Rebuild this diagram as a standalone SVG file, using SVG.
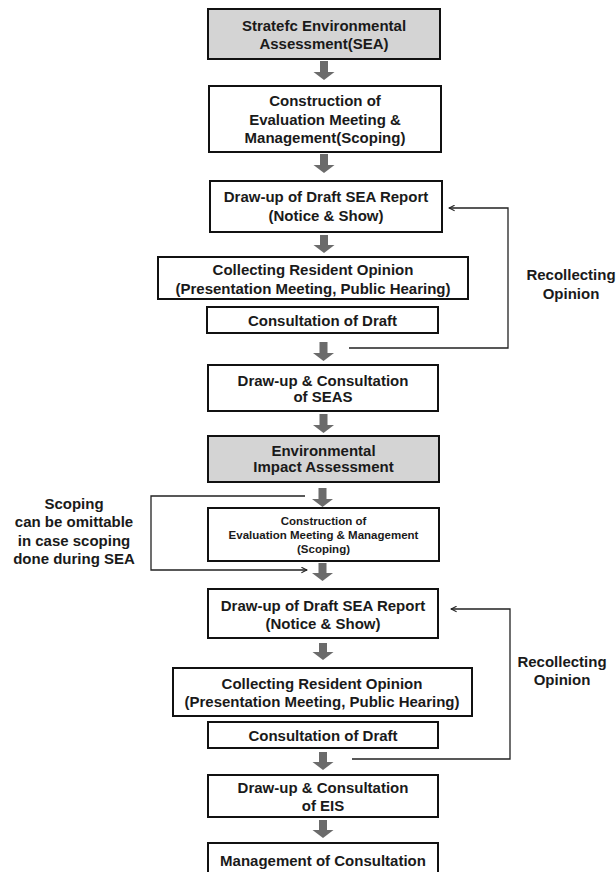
<svg xmlns="http://www.w3.org/2000/svg" width="616" height="872" viewBox="0 0 616 872">
<defs>
<style>
.box{fill:#fff;stroke:#111;stroke-width:2}
.gray{fill:#d4d4d4;stroke:#111;stroke-width:2}
.t{font-family:"Liberation Sans",Arial,sans-serif;font-weight:bold;font-size:15px;fill:#1a1a1a;text-anchor:middle}
.s{font-size:11.5px}
.flow{fill:#6b6b6b}
.line{fill:none;stroke:#222;stroke-width:1.3}
</style>
<marker id="ah" viewBox="0 0 10 10" refX="9" refY="5" markerWidth="7" markerHeight="7" orient="auto" markerUnits="userSpaceOnUse">
<path d="M1,1 L9,5 L1,9" fill="none" stroke="#222" stroke-width="1.5"/>
</marker>
</defs>
<rect width="616" height="872" fill="#fff"/>

<g id="n1"><rect class="gray" x="208" y="9" width="232" height="50"/>
<text class="t" x="324" y="31">Stratefc Environmental</text>
<text class="t" x="324" y="49">Assessment(SEA)</text></g>

<g id="n2"><rect class="box" x="209" y="86" width="232" height="66"/>
<text class="t" x="325" y="106">Construction of</text>
<text class="t" x="325" y="124.5">Evaluation Meeting &amp;</text>
<text class="t" x="325" y="143">Management(Scoping)</text></g>

<g id="n3"><rect class="box" x="210" y="181" width="232" height="51"/>
<text class="t" x="326" y="202">Draw-up of Draft SEA Report</text>
<text class="t" x="326" y="220.5">(Notice &amp; Show)</text></g>

<g id="n4"><rect class="box" x="158" y="257" width="310" height="42"/>
<text class="t" x="313" y="275">Collecting Resident Opinion</text>
<text class="t" x="313" y="294">(Presentation Meeting, Public Hearing)</text></g>

<g id="n5"><rect class="box" x="207" y="307" width="231" height="26"/>
<text class="t" x="322.5" y="325.5">Consultation of Draft</text></g>

<g id="n6"><rect class="box" x="208" y="365" width="230" height="46"/>
<text class="t" x="323" y="385.5">Draw-up &amp; Consultation</text>
<text class="t" x="323" y="402">of SEAS</text></g>

<g id="n7"><rect class="gray" x="208" y="436" width="231" height="46"/>
<text class="t" x="323.5" y="455.5">Environmental</text>
<text class="t" x="323.5" y="472">Impact Assessment</text></g>

<g id="n8"><rect class="box" x="208" y="508" width="231" height="53"/>
<text class="t s" x="323.5" y="525">Construction of</text>
<text class="t s" x="323.5" y="539">Evaluation Meeting &amp; Management</text>
<text class="t s" x="323.5" y="553">(Scoping)</text></g>

<g id="n9"><rect class="box" x="208" y="589" width="230" height="49"/>
<text class="t" x="323" y="610.5">Draw-up of Draft SEA Report</text>
<text class="t" x="323" y="629">(Notice &amp; Show)</text></g>

<g id="n10"><rect class="box" x="173" y="668" width="299" height="48"/>
<text class="t" x="322" y="689">Collecting Resident Opinion</text>
<text class="t" x="322" y="707">(Presentation Meeting, Public Hearing)</text></g>

<g id="n11"><rect class="box" x="208" y="722" width="230" height="26"/>
<text class="t" x="323" y="741">Consultation of Draft</text></g>

<g id="n12"><rect class="box" x="208" y="775" width="230" height="42"/>
<text class="t" x="323" y="793">Draw-up &amp; Consultation</text>
<text class="t" x="323" y="810.5">of EIS</text></g>

<g id="n13"><rect class="box" x="208" y="843" width="230" height="40"/>
<text class="t" x="323" y="865.5">Management of Consultation</text></g>

<g id="labels">
<text class="t" x="571" y="280">Recollecting</text>
<text class="t" x="571" y="299">Opinion</text>
<text class="t" x="562" y="667">Recollecting</text>
<text class="t" x="562" y="685">Opinion</text>
<text class="t" x="74" y="508.5">Scoping</text>
<text class="t" x="74" y="527">can be omittable</text>
<text class="t" x="74" y="545.5">in case scoping</text>
<text class="t" x="74" y="564">done during SEA</text>
</g>

<g id="connectors">
<path class="flow" d="M320,61 h8 v11 h6.5 l-10.5,8 l-10.5,-8 h6.5 z"/>
<path class="flow" d="M320,154 h8 v11 h6.5 l-10.5,8 l-10.5,-8 h6.5 z"/>
<path class="flow" d="M320,235 h8 v10 h6.5 l-10.5,8 l-10.5,-8 h6.5 z"/>
<path class="flow" d="M319.5,342 h8 v11 h6.5 l-10.5,8 l-10.5,-8 h6.5 z"/>
<path class="flow" d="M319.5,414 h8 v11 h6.5 l-10.5,8 l-10.5,-8 h6.5 z"/>
<path class="flow" d="M318.5,488 h8 v11 h6.5 l-10.5,8 l-10.5,-8 h6.5 z"/>
<path class="flow" d="M318.5,563 h8 v10 h6.5 l-10.5,8 l-10.5,-8 h6.5 z"/>
<path class="flow" d="M319,643 h8 v9 h6.5 l-10.5,8 l-10.5,-8 h6.5 z"/>
<path class="flow" d="M319,752 h8 v10 h6.5 l-10.5,8 l-10.5,-8 h6.5 z"/>
<path class="flow" d="M319,820 h8 v10 h6.5 l-10.5,8 l-10.5,-8 h6.5 z"/>
<path class="line" d="M349,348 H508 V208 H449" marker-end="url(#ah)"/>
<path class="line" d="M352,759 H510 V609 H451" marker-end="url(#ah)"/>
<path class="line" d="M305,496 H151 V570 H307" marker-end="url(#ah)"/>
</g>
</svg>
